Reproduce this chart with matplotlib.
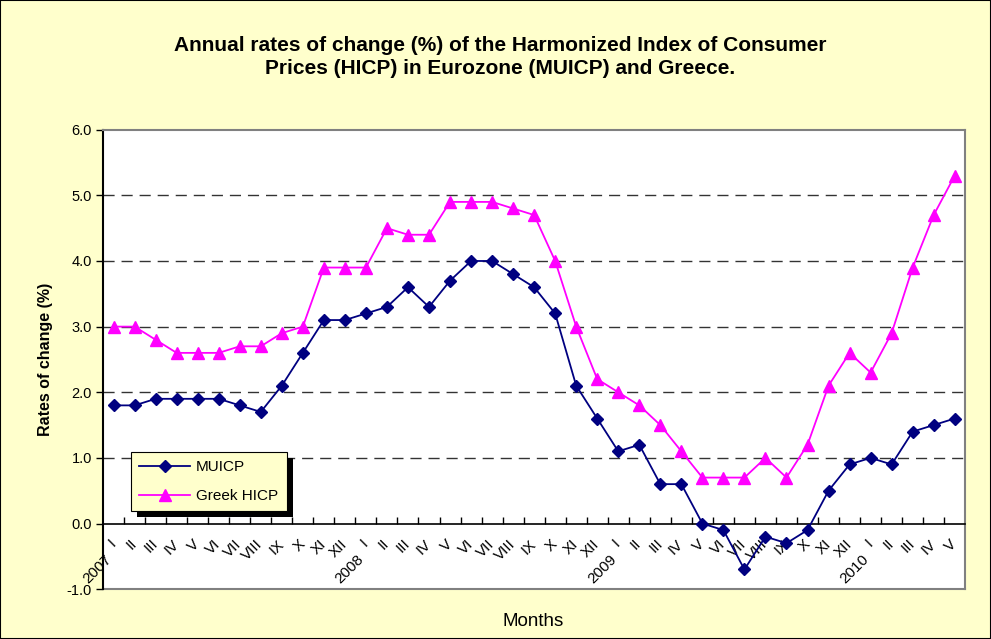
import matplotlib
matplotlib.use('Agg')
import matplotlib.pyplot as plt
from matplotlib.patches import Rectangle
from matplotlib.transforms import IdentityTransform, offset_copy

plt.rcParams['font.family'] = ['Liberation Sans', 'DejaVu Sans']

# Months (Roman numerals) and year markers
months = ['I', 'II', 'III', 'IV', 'V', 'VI', 'VII', 'VIII', 'IX', 'X', 'XI', 'XII'] * 3 + ['I', 'II', 'III', 'IV', 'V']
years = {0: '2007', 12: '2008', 24: '2009', 36: '2010'}

muicp = [1.8, 1.8, 1.9, 1.9, 1.9, 1.9, 1.8, 1.7, 2.1, 2.6, 3.1, 3.1,
         3.2, 3.3, 3.6, 3.3, 3.7, 4.0, 4.0, 3.8, 3.6, 3.2, 2.1, 1.6,
         1.1, 1.2, 0.6, 0.6, 0.0, -0.1, -0.7, -0.2, -0.3, -0.1, 0.5, 0.9,
         1.0, 0.9, 1.4, 1.5, 1.6]
greek = [3.0, 3.0, 2.8, 2.6, 2.6, 2.6, 2.7, 2.7, 2.9, 3.0, 3.9, 3.9,
         3.9, 4.5, 4.4, 4.4, 4.9, 4.9, 4.9, 4.8, 4.7, 4.0, 3.0, 2.2,
         2.0, 1.8, 1.5, 1.1, 0.7, 0.7, 0.7, 1.0, 0.7, 1.2, 2.1, 2.6,
         2.3, 2.9, 3.9, 4.7, 5.3]

bg = '#FFFFCC'
fig = plt.figure(figsize=(9.91, 6.39), dpi=100, facecolor=bg)
ax = fig.add_axes([0.104, 0.078, 0.870, 0.719])
ax.set_facecolor('white')

x = list(range(len(months)))
ax.plot(x, muicp, color='#000080', marker='D', markersize=6.5, lw=1.3, label='MUICP', zorder=3)
ax.plot(x, greek, color='#FF00FF', marker='^', markersize=8.5, lw=1.3, label='Greek HICP', zorder=3)

ax.set_xlim(-0.5, len(months) - 0.5)
ax.set_ylim(-1, 6)
ax.set_yticks([-1, 0, 1, 2, 3, 4, 5, 6])
ax.set_yticklabels(['%.1f' % v for v in [-1, 0, 1, 2, 3, 4, 5, 6]], fontsize=10.5)
ax.tick_params(axis='y', length=5, width=1, pad=3)

for v in [1, 2, 3, 4, 5]:
    ax.axhline(v, color='#333333', lw=1.0, ls=(0, (8, 5)), zorder=1)

# spines: axis line at 0, grey frame around plot area
for s in ['top', 'right']:
    ax.spines[s].set_color('#808080')
    ax.spines[s].set_linewidth(1.5)
ax.spines['left'].set_color('black')
ax.spines['left'].set_linewidth(1.5)
ax.spines['bottom'].set_position(('data', 0))
ax.spines['bottom'].set_color('black')
ax.spines['bottom'].set_linewidth(1.2)
ax.axhline(-1, color='#808080', lw=1.5, clip_on=False, zorder=2)

ax.set_xticks(x)
ax.set_xticklabels(months, rotation=45, ha='right', va='center', rotation_mode='anchor', fontsize=11)
ax.tick_params(axis='x', which='major', length=0, pad=13)
ax.set_xticks([i + 0.5 for i in x[:-1]], minor=True)
ax.tick_params(axis='x', which='minor', length=5, direction='in', width=1)

for i, yr in years.items():
    tr = offset_copy(ax.transData, fig=fig, x=-3, y=-24, units='points')
    ax.text(i, 0, yr, transform=tr, rotation=45, ha='right', va='center',
            rotation_mode='anchor', fontsize=11)

ax.set_ylabel('Rates of change (%)', fontsize=11.5, fontweight='bold', labelpad=10)
fig.text(0.538, 0.027, 'Months', ha='center', va='center', fontsize=13.5)
fig.text(0.505, 0.911, 'Annual rates of change (%) of the Harmonized Index of Consumer\nPrices (HICP) in Eurozone (MUICP) and Greece.',
         ha='center', va='center', fontsize=15, fontweight='bold', linespacing=1.3)

leg = ax.legend(loc='upper left', bbox_to_anchor=(0.0325, 0.2985), borderaxespad=0,
                fontsize=11, frameon=True, fancybox=False, facecolor=bg, edgecolor='black',
                framealpha=1, handlelength=3.3, handletextpad=0.4, borderpad=0.55, labelspacing=0.95)
leg.get_frame().set_linewidth(0.8)
leg.set_zorder(6)

fig.canvas.draw()
bb = leg.get_window_extent()
ax.add_artist(Rectangle((bb.x0 + 6, bb.y0 - 6), bb.width, bb.height, transform=IdentityTransform(),
                        facecolor='black', edgecolor='none', zorder=5.5))

fig.add_artist(Rectangle((0, 0), 1, 1, transform=fig.transFigure, fill=False, edgecolor='black', lw=1.5))

fig.savefig('out.png', dpi=100, facecolor=bg)
